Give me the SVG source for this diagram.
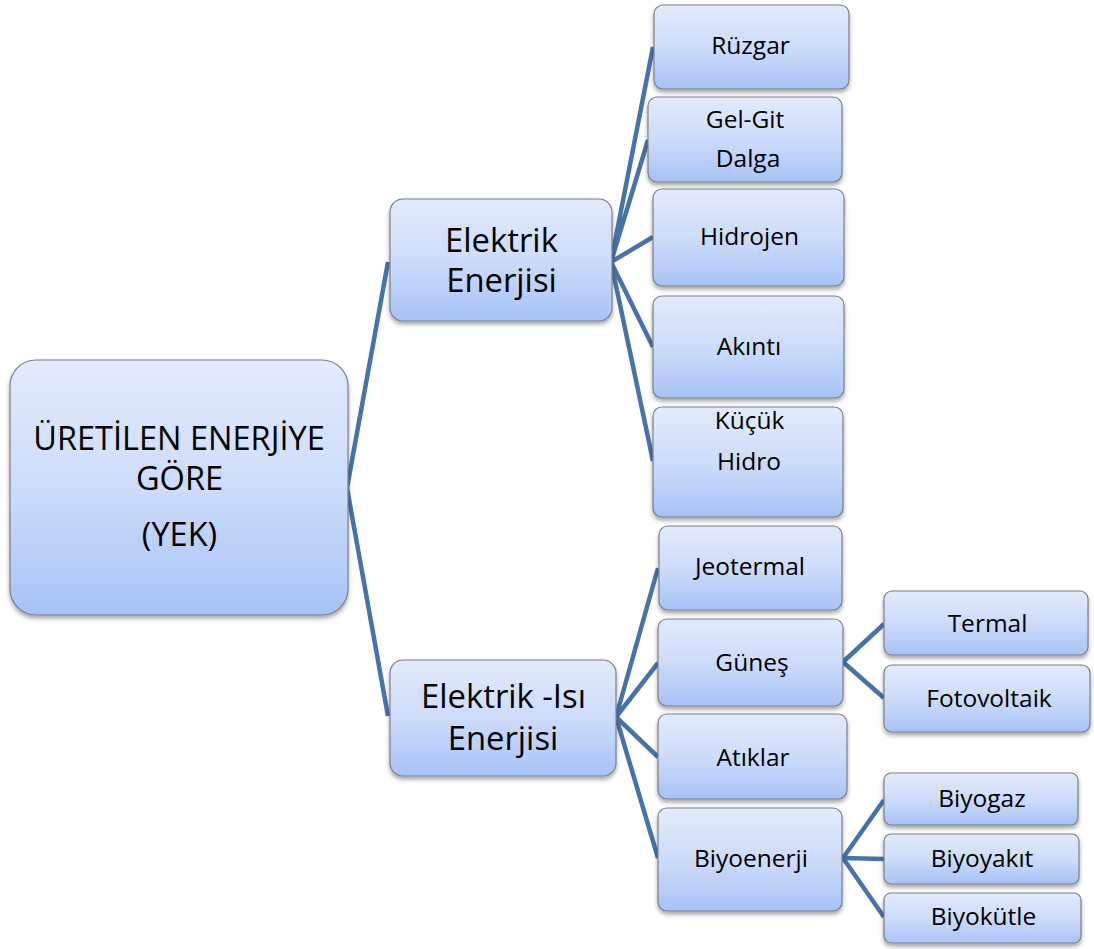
<svg xmlns="http://www.w3.org/2000/svg" width="1094" height="949" viewBox="0 0 1094 949">
<style>
.n{fill:url(#g);stroke:#7d7f86;stroke-width:1.2;filter:url(#sh)}
.c{fill:none;stroke:#4673a9;stroke-width:4.5;stroke-linejoin:round;stroke-linecap:butt}
text{font-family:"Open Sans","Liberation Sans",sans-serif;fill:#000;text-anchor:middle}
.s{font-size:24.5px}
.m{font-size:32.8px}
.r{font-size:32.5px}
</style>
<defs>
<linearGradient id="g" x1="0" y1="0" x2="0" y2="1">
<stop offset="0" stop-color="#e2ebfc"/>
<stop offset="0.5" stop-color="#cddcfa"/>
<stop offset="1" stop-color="#a6c3f7"/>
</linearGradient>
<filter id="sh" x="-10%" y="-10%" width="120%" height="130%">
<feDropShadow dx="0" dy="3" stdDeviation="2.2" flood-color="#000" flood-opacity="0.35"/>
</filter>
</defs>
<rect width="1094" height="949" fill="#fff"/>
<g id="connectors">
<polyline class="c" points="388,262 347,488 388,716"/>
<polyline class="c" points="653,47 611,262 648,140"/>
<polyline class="c" points="653,237 611,262 653,347"/>
<polyline class="c" points="611,262 653,461"/>
<polyline class="c" points="658,568 616,717 658,663"/>
<polyline class="c" points="658,757 616,717 658,858"/>
<polyline class="c" points="884,624 843,662 884,698"/>
<polyline class="c" points="884,800 843,858 884,917"/>
<line class="c" x1="843" y1="858" x2="884" y2="859"/>
</g>
<g id="root"><rect class="n" x="10" y="360" width="338" height="255" rx="26"/>
<text class="r" x="179" y="450">ÜRETİLEN ENERJİYE</text>
<text class="r" x="179.5" y="490">GÖRE</text>
<text class="r" x="179.5" y="546">(YEK)</text></g>
<g id="elektrik"><rect class="n" x="390" y="199" width="222" height="122" rx="13"/>
<text class="m" x="501.5" y="252">Elektrik</text>
<text class="m" x="501.5" y="292">Enerjisi</text></g>
<g id="elektrik-isi"><rect class="n" x="390" y="660" width="226" height="116" rx="13"/>
<text class="m" x="503.5" y="708">Elektrik -Isı</text>
<text class="m" x="503" y="750">Enerjisi</text></g>
<g id="ruzgar"><rect class="n" x="654" y="5" width="195" height="84" rx="9"/>
<text class="s" x="750.5" y="54">Rüzgar</text></g>
<g id="gelgit"><rect class="n" x="648" y="97" width="194" height="85" rx="9"/>
<text class="s" x="745" y="128">Gel-Git</text>
<text class="s" x="748" y="167">Dalga</text></g>
<g id="hidrojen"><rect class="n" x="653" y="189" width="191" height="97" rx="9"/>
<text class="s" x="749.5" y="245">Hidrojen</text></g>
<g id="akinti"><rect class="n" x="653" y="296" width="191" height="102" rx="9"/>
<text class="s" x="749" y="355">Akıntı</text></g>
<g id="kucuk-hidro"><rect class="n" x="653" y="407" width="190" height="110" rx="9"/>
<text class="s" x="749.5" y="429">Küçük</text>
<text class="s" x="749" y="470">Hidro</text></g>
<g id="jeotermal"><rect class="n" x="659" y="526" width="183" height="84" rx="9"/>
<text class="s" x="750" y="575">Jeotermal</text></g>
<g id="gunes"><rect class="n" x="658" y="619" width="185" height="87" rx="9"/>
<text class="s" x="752" y="671">Güneş</text></g>
<g id="atiklar"><rect class="n" x="658" y="714" width="189" height="85" rx="9"/>
<text class="s" x="753" y="766">Atıklar</text></g>
<g id="biyoenerji"><rect class="n" x="658" y="808" width="184" height="103" rx="9"/>
<text class="s" x="751" y="867">Biyoenerji</text></g>
<g id="termal"><rect class="n" x="884" y="591" width="204" height="64" rx="8"/>
<text class="s" x="987.5" y="632">Termal</text></g>
<g id="fotovoltaik"><rect class="n" x="884" y="665" width="206" height="67" rx="8"/>
<text class="s" x="989" y="707">Fotovoltaik</text></g>
<g id="biyogaz"><rect class="n" x="884" y="773" width="194" height="52" rx="7"/>
<text class="s" x="982" y="807">Biyogaz</text></g>
<g id="biyoyakit"><rect class="n" x="884" y="834" width="195" height="50" rx="7"/>
<text class="s" x="982" y="867">Biyoyakıt</text></g>
<g id="biyokutle"><rect class="n" x="884" y="893" width="197" height="50" rx="7"/>
<text class="s" x="983.5" y="925">Biyokütle</text></g>
</svg>
